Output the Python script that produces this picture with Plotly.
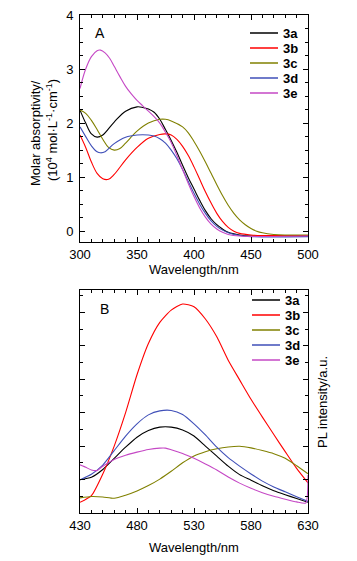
import plotly.graph_objects as go

# ---------------- Panel A data (absorption) ----------------
names = ["3a", "3b", "3c", "3d", "3e"]
colors = ["#000000", "#ff0000", "#808000", "#3f4fb8", "#c548c5"]

wl_3a = [300, 305, 310, 315, 320, 330, 340, 350, 355, 360, 365, 370, 375, 380, 385, 390, 395, 400, 405, 410, 415, 420, 425, 430, 440, 450, 460, 500]
abs_3a = [2.24, 2.0, 1.80, 1.74, 1.78, 2.02, 2.22, 2.30, 2.29, 2.26, 2.20, 2.07, 1.88, 1.68, 1.46, 1.22, 0.99, 0.78, 0.57, 0.38, 0.23, 0.12, 0.04, -0.02, -0.07, -0.09, -0.09, -0.09]

wl_3b = [300, 305, 310, 315, 320, 325, 330, 340, 350, 360, 370, 375, 380, 385, 390, 395, 400, 405, 410, 415, 420, 425, 430, 435, 440, 450, 460, 500]
abs_3b = [1.78, 1.55, 1.28, 1.07, 0.97, 0.96, 1.05, 1.32, 1.55, 1.72, 1.79, 1.80, 1.78, 1.70, 1.57, 1.40, 1.19, 0.96, 0.73, 0.52, 0.33, 0.18, 0.07, 0.0, -0.04, -0.07, -0.08, -0.08]

wl_3c = [300, 305, 310, 315, 320, 325, 330, 335, 340, 350, 360, 370, 375, 380, 390, 395, 400, 405, 410, 415, 420, 425, 430, 435, 440, 445, 450, 455, 460, 470, 480, 500]
abs_3c = [2.24, 2.18, 2.05, 1.88, 1.70, 1.55, 1.50, 1.53, 1.63, 1.85, 2.00, 2.07, 2.07, 2.04, 1.93, 1.82, 1.66, 1.48, 1.28, 1.07, 0.86, 0.66, 0.48, 0.33, 0.21, 0.12, 0.05, 0.0, -0.03, -0.06, -0.07, -0.07]

wl_3d = [300, 305, 310, 315, 318, 322, 330, 340, 350, 360, 365, 370, 375, 380, 385, 390, 395, 400, 405, 410, 415, 420, 425, 430, 440, 450, 500]
abs_3d = [1.93, 1.75, 1.58, 1.47, 1.45, 1.47, 1.62, 1.74, 1.78, 1.78, 1.76, 1.71, 1.63, 1.50, 1.34, 1.14, 0.92, 0.70, 0.50, 0.33, 0.19, 0.09, 0.02, -0.03, -0.08, -0.10, -0.10]

wl_3e = [300, 305, 310, 315, 318, 322, 326, 330, 335, 340, 345, 350, 355, 360, 365, 370, 375, 380, 385, 390, 395, 400, 405, 410, 415, 420, 425, 430, 440, 500]
abs_3e = [2.64, 3.0, 3.23, 3.34, 3.35, 3.30, 3.20, 3.05, 2.86, 2.68, 2.54, 2.42, 2.32, 2.22, 2.12, 2.00, 1.83, 1.64, 1.40, 1.14, 0.88, 0.64, 0.43, 0.26, 0.13, 0.04, -0.02, -0.06, -0.09, -0.09]

# ---------------- Panel B data (PL, arbitrary units) ----------------
wl_pl = [430, 440, 450, 460, 470, 480, 490, 500, 510, 520, 530, 540, 550, 560, 570, 580, 590, 600, 610, 620, 630]
pl_3a = [14.9, 16.0, 19.5, 24.5, 29.5, 34.0, 37.0, 38.5, 38.5, 37.2, 34.5, 30.0, 25.5, 21.0, 17.2, 14.7, 12.2, 10.0, 8.2, 6.5, 4.8]
pl_3b = [4.8, 7.8, 17.5, 30.0, 45.0, 62.0, 76.0, 85.5, 91.0, 93.7, 92.5, 87.0, 79.0, 68.5, 59.7, 51.0, 43.0, 35.2, 27.5, 20.0, 13.5]
pl_3c = [6.8, 7.4, 7.2, 6.6, 8.0, 9.9, 12.3, 15.2, 18.7, 22.5, 25.6, 27.5, 28.8, 29.6, 29.9, 29.2, 28.0, 26.6, 24.5, 21.2, 17.6]
pl_3d = [14.9, 17.4, 21.5, 28.0, 34.5, 40.0, 44.0, 45.8, 46.0, 44.2, 40.0, 35.0, 29.5, 24.8, 21.0, 17.5, 14.3, 11.7, 9.5, 7.3, 5.2]
wl_pl_3e = [430, 435, 440, 445, 450, 460, 470, 480, 490, 500, 505, 510, 520, 530, 540, 550, 560, 570, 580, 590, 600, 610, 620, 628, 630]
pl_3e = [21.6, 20.5, 19.3, 19.1, 21.0, 24.0, 25.9, 27.3, 28.5, 29.1, 29.1, 28.4, 26.7, 24.5, 22.0, 19.3, 16.1, 13.4, 11.1, 9.1, 7.5, 6.2, 5.0, 4.5, 17.0]

abs_x = [wl_3a, wl_3b, wl_3c, wl_3d, wl_3e]
abs_y = [abs_3a, abs_3b, abs_3c, abs_3d, abs_3e]
pl_x = [wl_pl, wl_pl, wl_pl, wl_pl, wl_pl_3e]
pl_y = [pl_3a, pl_3b, pl_3c, pl_3d, pl_3e]

W, H = 357, 561
FONT = "Liberation Sans, Arial, sans-serif"

fig = go.Figure()
for n, c, xs, ys in zip(names, colors, abs_x, abs_y):
    fig.add_trace(go.Scatter(x=xs, y=ys, mode="lines", name=n, showlegend=False,
                             line=dict(color=c, width=1.1, shape="spline", smoothing=1.0),
                             xaxis="x", yaxis="y"))
for n, c, xs, ys in zip(names, colors, pl_x, pl_y):
    fig.add_trace(go.Scatter(x=xs, y=ys, mode="lines", name=n, showlegend=False,
                             line=dict(color=c, width=1.1, shape="spline", smoothing=0.6),
                             xaxis="x2", yaxis="y2"))

def px_x(p):
    return p / W

def px_y(p):
    return 1 - p / H

x_dom = [px_x(80), px_x(308)]
axis_common = dict(showline=True, linecolor="black", linewidth=1, mirror="ticks",
                   ticks="inside", ticklen=5, tickwidth=1, tickcolor="black",
                   showgrid=False, zeroline=False, automargin=False,
                   tickfont=dict(family=FONT, size=13, color="black"))

fig.update_layout(
    width=W, height=H, margin=dict(l=0, r=0, t=0, b=0, autoexpand=False),
    paper_bgcolor="white", plot_bgcolor="white", showlegend=False,
    xaxis=dict(domain=x_dom, range=[300, 500], dtick=50, anchor="y",
               minor=dict(ticks="inside", ticklen=3, dtick=10, tickcolor="black"),
               **axis_common),
    yaxis=dict(domain=[px_y(242), px_y(15)], range=[-0.2, 4], dtick=1, tick0=0, anchor="x",
               minor=dict(ticks="inside", ticklen=3, dtick=0.25, tickcolor="black"),
               ticklabelstandoff=3, **axis_common),
    xaxis2=dict(domain=x_dom, range=[430, 630], dtick=50, tick0=430, anchor="y2",
                minor=dict(ticks="inside", ticklen=3, dtick=10, tickcolor="black"),
                **axis_common),
    yaxis2=dict(domain=[px_y(513), px_y(290)], range=[0, 100], dtick=15, tick0=0, anchor="x2",
                showticklabels=False,
                minor=dict(ticks="inside", ticklen=3, dtick=7.5, tickcolor="black"),
                **axis_common),
)

ann = []
shapes = []

def text(t, x, y, size=13, angle=0, xanchor="center"):
    ann.append(dict(text=t, x=px_x(x), y=px_y(y), xref="paper", yref="paper",
                    xanchor=xanchor, yanchor="middle", textangle=angle, showarrow=False,
                    font=dict(family=FONT, size=size, color="black")))

# axis titles
text("Wavelength/nm", 194, 270)
text("Wavelength/nm", 194, 547)
text("Molar absorptivity/", 35, 133, angle=-90)
text("(10<sup>4</sup> mol\u00b7L<sup>-1</sup>\u00b7cm<sup>-1</sup>)", 52, 130, angle=-90)
text("PL intensity/a.u.", 322, 402, angle=-90)
# panel labels
text("A", 100, 33, size=14)
text("B", 104, 309, size=14)

# legends (manual, to match compact spacing)
leg_A = dict(x0=250, x1=278, xt=281, y0=33)
leg_B = dict(x0=252, x1=280, xt=283, y0=300)
for leg in (leg_A, leg_B):
    for i, (n, c) in enumerate(zip(names, colors)):
        yy = leg["y0"] + 15 * i
        shapes.append(dict(type="line", xref="paper", yref="paper",
                           x0=px_x(leg["x0"]), x1=px_x(leg["x1"]), y0=px_y(yy), y1=px_y(yy),
                           line=dict(color=c, width=1.5)))
        text("<b>%s</b>" % n, leg["xt"], yy, xanchor="left")

fig.update_layout(annotations=ann, shapes=shapes)
fig.write_html("out.html", config={"displayModeBar": False},
               post_script="document.body.style.margin='0px';document.body.style.padding='0px';"
                           "document.body.style.overflow='hidden';")
